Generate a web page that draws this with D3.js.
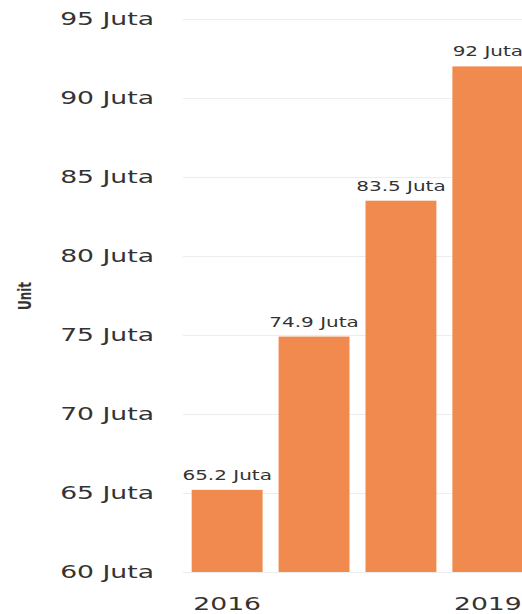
<!DOCTYPE html>
<html>
<head>
<meta charset="utf-8">
<script src="https://cdn.jsdelivr.net/npm/d3@7"></script>
<style>
  body { margin: 0; background: #fff; }
  svg { display: block; overflow: hidden; }
  text { font-family: "DejaVu Sans", Verdana, sans-serif; fill: #333; }
</style>
</head>
<body>
<div id="chart"></div>
<script>
// data
const years = ["2016", "2017", "2018", "2019"];
const units = [65.2, 74.9, 83.5, 92];
const barLabels = ["65.2 Juta", "74.9 Juta", "83.5 Juta", "92 Juta"];
const yTicks = [60, 65, 70, 75, 80, 85, 90, 95];
const xTickYears = ["2016", "2019"];

const width = 522, height = 614;
const stretch = 1.48; // text in the picture is widened

const svg = d3.select("#chart").append("svg")
    .attr("width", width)
    .attr("height", height);

const y = d3.scaleLinear()
    .domain([60, 95])
    .range([572, 19]);

const x = d3.scaleBand()
    .domain(years)
    .range([183, 532])
    .paddingInner(0.184)
    .paddingOuter(0.1);

// grid
svg.append("g").attr("class", "grid")
    .selectAll("line")
    .data(yTicks)
    .join("line")
    .attr("x1", 183)
    .attr("x2", width)
    .attr("y1", d => Math.round(y(d)) + 0.5)
    .attr("y2", d => Math.round(y(d)) + 0.5)
    .attr("stroke", "#ececec")
    .attr("stroke-width", 1);

// y tick labels
svg.append("g").attr("class", "y-labels")
    .selectAll("text")
    .data(yTicks)
    .join("text")
    .attr("transform", d => `translate(154,${y(d)}) scale(${stretch},1)`)
    .attr("text-anchor", "end")
    .attr("dy", "0.36em")
    .attr("font-size", 18)
    .text(d => d + " Juta");

// axis title
svg.append("text")
    .attr("transform", `translate(31,296) scale(${stretch},1) rotate(-90)`)
    .attr("text-anchor", "middle")
    .attr("font-size", 12)
    .attr("font-weight", "bold")
    .text("Unit");

// bars
svg.append("g").attr("class", "bars")
    .selectAll("rect")
    .data(units)
    .join("rect")
    .attr("x", (d, i) => x(years[i]))
    .attr("y", d => y(d))
    .attr("width", x.bandwidth())
    .attr("height", d => y(60) - y(d))
    .attr("fill", "#f08a4e");

// bar value labels
svg.append("g").attr("class", "bar-labels")
    .selectAll("text")
    .data(units)
    .join("text")
    .attr("transform", (d, i) => `translate(${x(years[i]) + x.bandwidth() / 2},${y(d) - 10}) scale(${stretch},1)`)
    .attr("text-anchor", "middle")
    .attr("font-size", 13.5)
    .text((d, i) => barLabels[i]);

// x labels, every third year
svg.append("g").attr("class", "x-labels")
    .selectAll("text")
    .data(xTickYears)
    .join("text")
    .attr("transform", d => `translate(${x(d) + x.bandwidth() / 2},610) scale(${stretch},1)`)
    .attr("text-anchor", "middle")
    .attr("font-size", 18)
    .text(d => d);
</script>
</body>
</html>
